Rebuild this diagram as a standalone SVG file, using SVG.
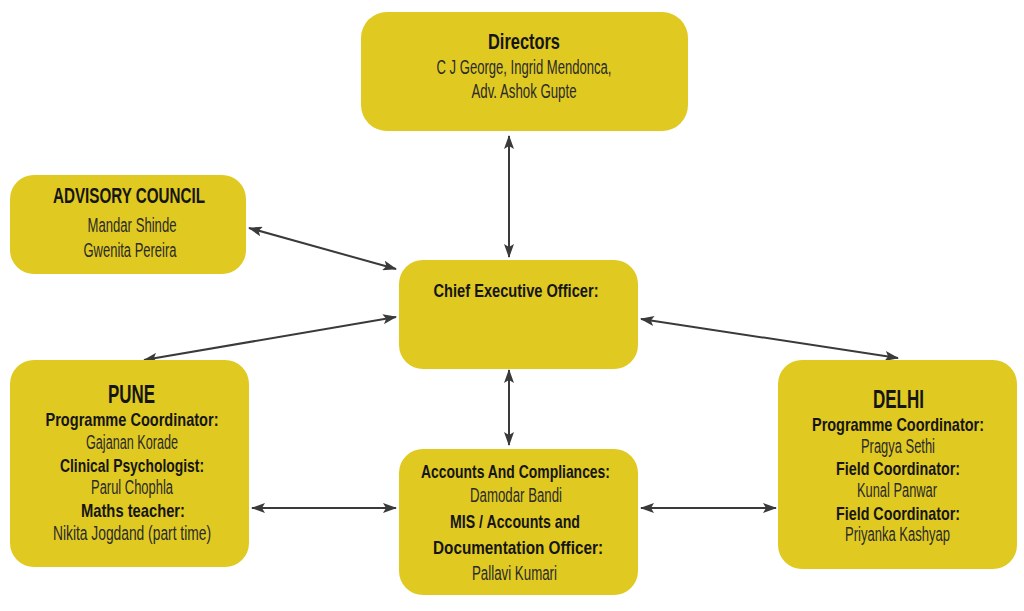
<svg xmlns="http://www.w3.org/2000/svg" width="1024" height="611" viewBox="0 0 1024 611">
<style>
.box{fill:#E0C920;}
text{font-family:"Liberation Sans",Arial,sans-serif;text-anchor:middle;fill:#151515;}
.t{font-weight:bold;font-size:22.5px;}
.b{font-weight:bold;font-size:19px;}
.r{font-size:19.5px;fill:#2a2a2a;}
.big{font-weight:bold;font-size:25px;}
.c{stroke:#3a3a3a;stroke-width:2;fill:none;marker-start:url(#ah);marker-end:url(#ah);}
</style>
<defs>
<marker id="ah" viewBox="0 0 14 10" refX="13" refY="5" markerWidth="14" markerHeight="10" markerUnits="userSpaceOnUse" orient="auto-start-reverse">
<path d="M0,0 L14,5 L0,10 L3,5 z" fill="#3a3a3a"/>
</marker>
</defs>
<rect width="1024" height="611" fill="#fff"/>
<g id="connectors">
<line class="c" x1="509" y1="136" x2="509" y2="257"/>
<line class="c" x1="249" y1="228" x2="396" y2="269"/>
<line class="c" x1="396" y1="317" x2="144" y2="360"/>
<line class="c" x1="641" y1="319" x2="898" y2="358"/>
<line class="c" x1="509" y1="370" x2="509" y2="445"/>
<line class="c" x1="252" y1="508" x2="396" y2="508"/>
<line class="c" x1="641" y1="508" x2="776" y2="508"/>
</g>
<g id="directors">
<rect class="box" x="361" y="12" width="327" height="119" rx="26"/>
<text class="t" x="524" y="49" textLength="72" lengthAdjust="spacingAndGlyphs">Directors</text>
<text class="r" x="524" y="74" textLength="175" lengthAdjust="spacingAndGlyphs">C J George, Ingrid Mendonca,</text>
<text class="r" x="524" y="98" textLength="105" lengthAdjust="spacingAndGlyphs">Adv. Ashok Gupte</text>
</g>
<g id="advisory">
<rect class="box" x="10" y="175" width="236" height="99" rx="24"/>
<text class="t" x="129" y="203" textLength="152" lengthAdjust="spacingAndGlyphs">ADVISORY COUNCIL</text>
<text class="r" x="132" y="232" textLength="89" lengthAdjust="spacingAndGlyphs">Mandar Shinde</text>
<text class="r" x="130" y="257" textLength="93" lengthAdjust="spacingAndGlyphs">Gwenita Pereira</text>
</g>
<g id="ceo">
<rect class="box" x="399" y="260" width="239" height="109" rx="24"/>
<text class="b" x="516" y="297" textLength="165" lengthAdjust="spacingAndGlyphs">Chief Executive Officer:</text>
</g>
<g id="pune">
<rect class="box" x="10" y="360" width="239" height="207" rx="24"/>
<text class="big" x="131.5" y="403" textLength="47" lengthAdjust="spacingAndGlyphs">PUNE</text>
<text class="b" x="132" y="426" textLength="173" lengthAdjust="spacingAndGlyphs">Programme Coordinator:</text>
<text class="r" x="132" y="449" textLength="92" lengthAdjust="spacingAndGlyphs">Gajanan Korade</text>
<text class="b" x="132" y="472" textLength="144" lengthAdjust="spacingAndGlyphs">Clinical Psychologist:</text>
<text class="r" x="132" y="494" textLength="82" lengthAdjust="spacingAndGlyphs">Parul Chophla</text>
<text class="b" x="133" y="517" textLength="104" lengthAdjust="spacingAndGlyphs">Maths teacher:</text>
<text class="r" x="132" y="540" textLength="158" lengthAdjust="spacingAndGlyphs">Nikita Jogdand (part time)</text>
</g>
<g id="accounts">
<rect class="box" x="399" y="449" width="239" height="146" rx="24"/>
<text class="b" x="515.5" y="478" textLength="189" lengthAdjust="spacingAndGlyphs">Accounts And Compliances:</text>
<text class="r" x="516" y="502" textLength="92" lengthAdjust="spacingAndGlyphs">Damodar Bandi</text>
<text class="b" x="515" y="528" textLength="130" lengthAdjust="spacingAndGlyphs">MIS / Accounts and</text>
<text class="b" x="518" y="554" textLength="170" lengthAdjust="spacingAndGlyphs">Documentation Officer:</text>
<text class="r" x="514.5" y="580" textLength="85" lengthAdjust="spacingAndGlyphs">Pallavi Kumari</text>
</g>
<g id="delhi">
<rect class="box" x="778" y="360" width="239" height="209" rx="24"/>
<text class="big" x="898.5" y="408" textLength="51" lengthAdjust="spacingAndGlyphs">DELHI</text>
<text class="b" x="898" y="431" textLength="172" lengthAdjust="spacingAndGlyphs">Programme Coordinator:</text>
<text class="r" x="898" y="453" textLength="74" lengthAdjust="spacingAndGlyphs">Pragya Sethi</text>
<text class="b" x="898" y="475" textLength="124" lengthAdjust="spacingAndGlyphs">Field Coordinator:</text>
<text class="r" x="897" y="497" textLength="80" lengthAdjust="spacingAndGlyphs">Kunal Panwar</text>
<text class="b" x="898" y="520" textLength="124" lengthAdjust="spacingAndGlyphs">Field Coordinator:</text>
<text class="r" x="897.5" y="541" textLength="105" lengthAdjust="spacingAndGlyphs">Priyanka Kashyap</text>
</g>
</svg>
